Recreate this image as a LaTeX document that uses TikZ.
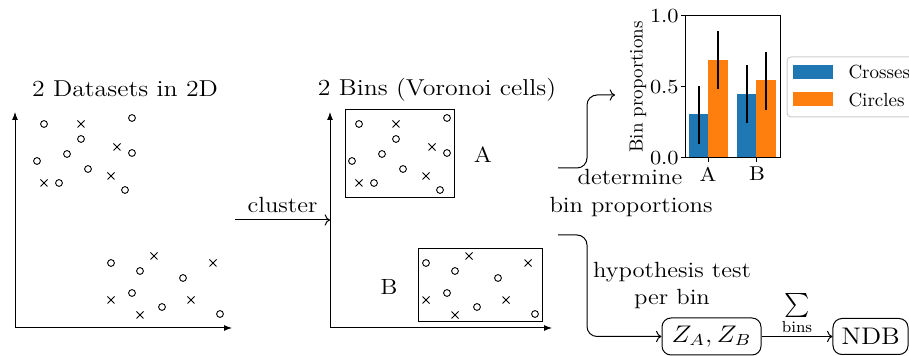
\RequirePackage{fix-cm}
\documentclass[tikz,border=0pt]{standalone}
\usepackage{exscale}
\usepackage{fontspec}
\usetikzlibrary{arrows.meta}
\definecolor{mplblue}{HTML}{1F77B4}
\definecolor{mplorange}{HTML}{FF7F0E}
\definecolor{legendgray}{HTML}{CCCCCC}

% sample points of the two clusters (upper and lower group)
\newcommand{\pointcloud}{%
  \foreach \px/\py in {44/124,132/118,81/139,67/154,132/153,37/161,88/169,59/183,125/190,
                       111/263,140/271,183/278,132/293,162/307,220/314}
    \draw[ptmark] (\px,\py) circle[radius=1.7pt];
  \foreach \px/\py in {81/124,117/147,111/176,44/183,
                       154/256,213/263,111/300,191/300,140/315}
    \draw[ptmark] (\px,\py) ++(-3.5,-3.5) -- ++(7,7) ++(0,-7) -- ++(-7,7);
}

\begin{document}
\begin{tikzpicture}[x=0.5pt,y=-0.5pt,line width=0.5pt,
  ptmark/.style={line width=0.45pt},
  axis/.style={{Latex[length=4pt,width=3pt]}-{Latex[length=4pt,width=3pt]}},
  flow/.style={->,rounded corners=5pt},
  wide/.style={xscale=1.12},
  ttl/.style={wide,font=\fontsize{11.5}{14}\selectfont,inner sep=0pt,anchor=base},
  txt/.style={wide,font=\fontsize{11}{13}\selectfont,inner sep=0pt,anchor=base},
  chart/.style={font=\fontsize{9.5}{11}\selectfont,inner sep=0pt},
  ticklbl/.style={wide,font=\fontsize{10}{12}\selectfont,inner sep=0pt},
  binbox/.style={draw,inner sep=0pt},
  result/.style={wide,draw,rounded corners=4.5pt,font=\fontsize{12}{14}\selectfont,inner sep=0pt}]

\useasboundingbox (0,0) rectangle (909,356);

% ---------- panel 1: raw data ----------
\node[ttl] (title1) at (125,97) {2 Datasets in 2D};
\coordinate (o1) at (15,328);
\coordinate (ytop1) at (15,112);
\coordinate (xend1) at (232,328);
\draw[axis] (ytop1) -- (o1) -- (xend1);
\pointcloud

% ---------- clustering step ----------
\coordinate (clusterstart) at (235,220);
\coordinate (clusterend) at (330,220);
\draw[->] (clusterstart) -- node[midway,above,wide,inner sep=3.5pt,font=\fontsize{11}{13}\selectfont] (clusterlbl) {cluster} (clusterend);

% ---------- panel 2: bins ----------
\node[ttl] (title2) at (437,96) {2 Bins (Voronoi cells)};
\coordinate (o2) at (330,328);
\coordinate (ytop2) at (330,112);
\coordinate (xend2) at (552,328);
\draw[axis] (ytop2) -- (o2) -- (xend2);
\node[binbox,minimum width=54.5pt,minimum height=44pt] (binA) at (399.5,154) {};
\node[binbox,minimum width=62pt,minimum height=36.5pt] (binB) at (480,285.5) {};
\begin{scope}[xshift=157.5pt]
  \pointcloud
\end{scope}
\node[txt] (labA) at (483,163) {A};
\node[txt] (labB) at (389,295) {B};

% ---------- bin proportions ----------
\coordinate (propstart) at (558,168);
\coordinate (chartin) at (615,95);
\draw[flow] (propstart) -- (587,168) -- (587,95) -- (chartin);
\node[txt] (det1) at (630,185) {determine};
\node[txt] (det2) at (631,213) {bin proportions};

% bar chart
\fill[mplblue]   (689,158) rectangle (708,114);
\fill[mplorange] (708,158) rectangle (728,60);
\fill[mplblue]   (737,158) rectangle (756,94);
\fill[mplorange] (756,158) rectangle (776,80);
\draw[line width=1pt] (699,86) -- (699,144);
\draw[line width=1pt] (718,31) -- (718,89);
\draw[line width=1pt] (747,65) -- (747,123);
\draw[line width=1pt] (766,52) -- (766,110);
\draw (685,16) rectangle (780,158);
\foreach \v/\yy in {0.0/158,0.5/87,1.0/16}
  \draw (685,\yy) -- (681,\yy) node[ticklbl,anchor=east,xshift=-0.8pt] {\v};
\draw (708,158) -- (708,162);
\draw (756,158) -- (756,162);
\node[ticklbl] (tickA) at (708,174) {A};
\node[ticklbl] (tickB) at (757,174) {B};
\node[chart,rotate=90] (ylab) at (638,87) {Bin proportions};

% legend
\draw[legendgray,fill=white,rounded corners=2pt] (787,57) rectangle (940,117);
\fill[mplblue]   (793,65) rectangle (833,79);
\fill[mplorange] (793,92) rectangle (833,106);
\node[chart,anchor=west] (legcross) at (848,72) {Crosses};
\node[chart,anchor=west] (legcirc) at (848,100) {Circles};

% ---------- hypothesis test ----------
\node[txt] (hyp1) at (672,278) {hypothesis test};
\node[txt] (hyp2) at (672,305) {per bin};
\node[result,minimum width=44.2pt,minimum height=18.5pt] (zab) at (711.5,336.5) {$Z_A, Z_B$};
\node[result,minimum width=33.5pt,minimum height=18pt] (ndb) at (870.5,336.5) {NDB};
\coordinate (teststart) at (558,235);
\draw[flow] (teststart) -- (587,235) -- (587,336.5) -- (zab.west);
\draw[->] (zab.east) -- node[midway,above,inner sep=0.5pt,font=\fontsize{12}{14}\selectfont] (sumlbl) {$\sum\limits_{\mathrm{bins}}$} (ndb.west);

\end{tikzpicture}
\end{document}
